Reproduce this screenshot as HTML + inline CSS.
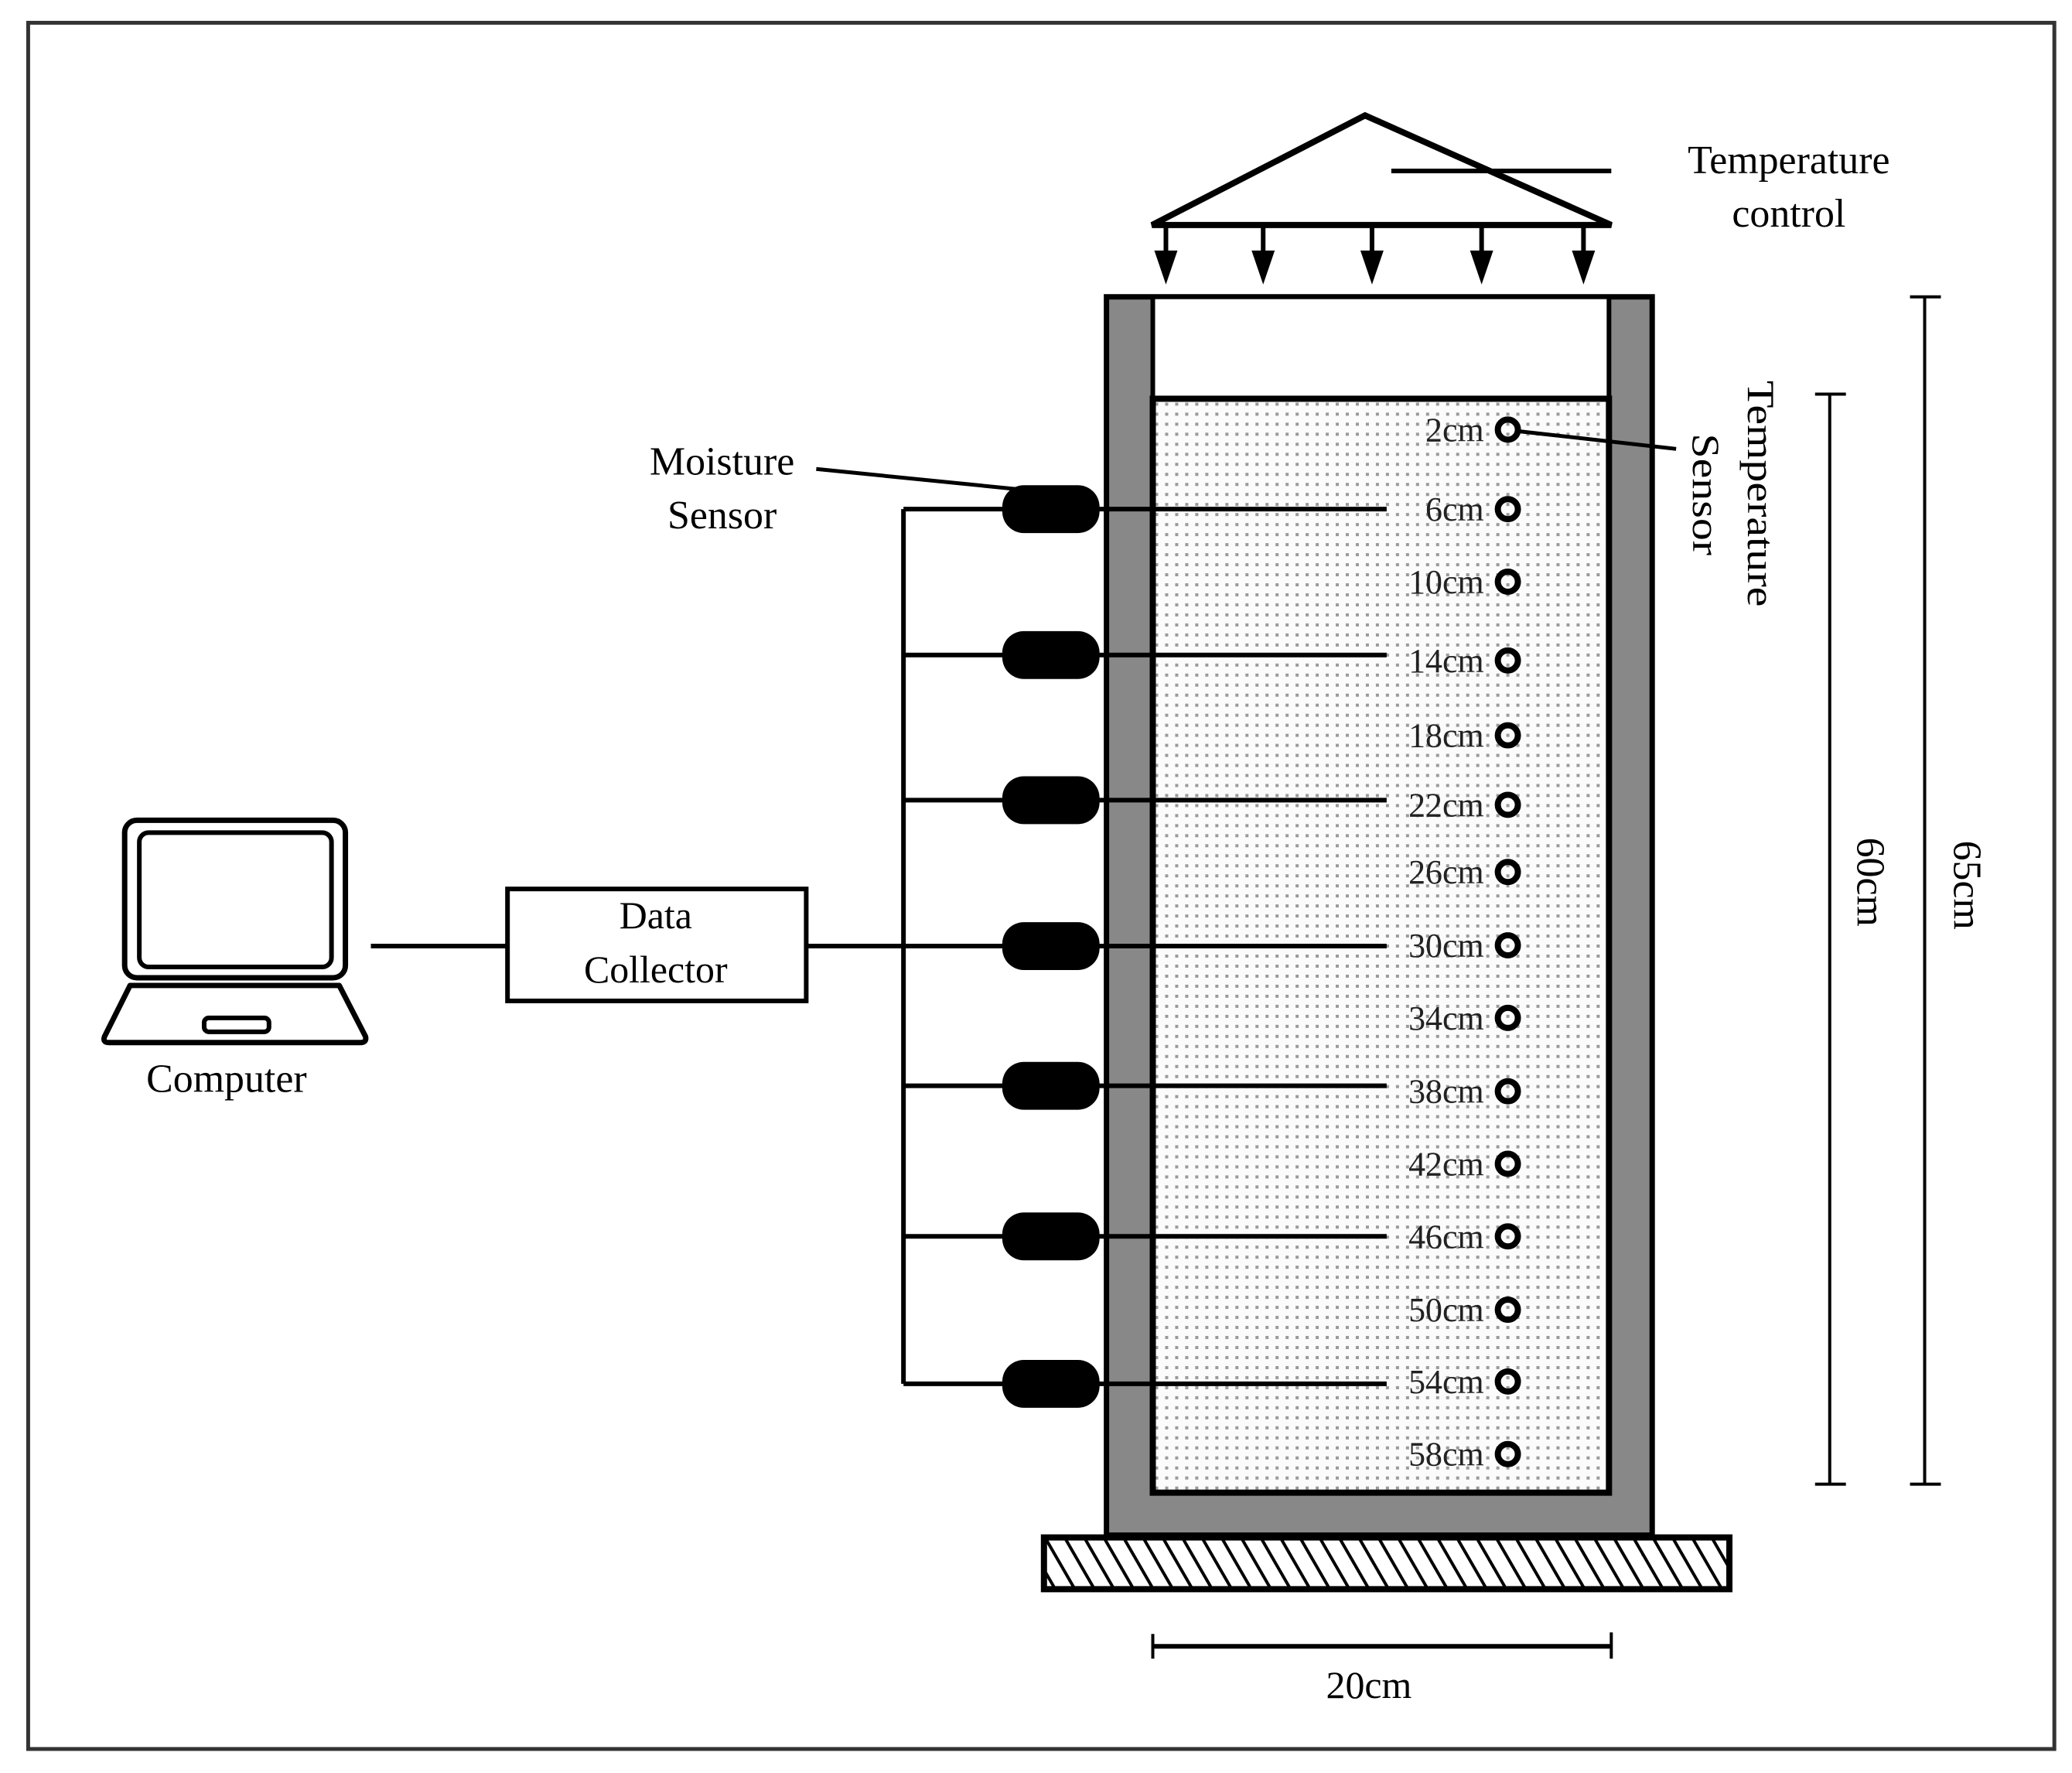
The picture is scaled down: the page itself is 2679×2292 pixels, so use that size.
<!DOCTYPE html>
<html><head><meta charset="utf-8"><style>html,body{margin:0;padding:0;background:#fff}svg{display:block}</style></head>
<body>
<svg width="2679" height="2292" viewBox="0 0 2679 2292" xmlns="http://www.w3.org/2000/svg" font-family="'Liberation Serif', serif" fill="#000">
<defs>
<pattern id="dots" width="13" height="13" patternUnits="userSpaceOnUse">
<rect width="13" height="13" fill="#fbfbfb"/>
<rect x="5" y="5" width="4" height="4" fill="#9a9a9a"/>
</pattern>
<pattern id="hatch" width="22" height="22" patternUnits="userSpaceOnUse" patternTransform="rotate(-30)">
<rect width="22" height="22" fill="#fff"/>
<rect x="0" y="0" width="4" height="22" fill="#000"/>
</pattern>
</defs>
<rect x="0" y="0" width="2679" height="2292" fill="#fff"/>
<g transform="translate(-3.5,-3.5) scale(0.998)">
<!-- frame -->
<rect x="40" y="33" width="2625" height="2236" fill="none" stroke="#333" stroke-width="5"/>

<!-- temperature control -->
<polygon points="1772,153 1496,295 2091,295" fill="none" stroke="#000" stroke-width="8" stroke-linejoin="miter"/>
<line x1="1806" y1="225" x2="2091" y2="225" stroke="#000" stroke-width="6"/>
<g stroke="#000" stroke-width="6">
<line x1="1514" y1="295" x2="1514" y2="335"/><line x1="1640" y1="295" x2="1640" y2="335"/><line x1="1781" y1="295" x2="1781" y2="335"/><line x1="1923" y1="295" x2="1923" y2="335"/><line x1="2055" y1="295" x2="2055" y2="335"/>
</g>
<g>
<polygon points="1499,328 1529,328 1514,372"/><polygon points="1625,328 1655,328 1640,372"/><polygon points="1766,328 1796,328 1781,372"/><polygon points="1908,328 1938,328 1923,372"/><polygon points="2040,328 2070,328 2055,372"/>
</g>
<text x="2321" y="228" font-size="52" text-anchor="middle">Temperature</text>
<text x="2321" y="297" font-size="52" text-anchor="middle">control</text>

<!-- column -->
<rect x="1437" y="388" width="707" height="1604" fill="#888" stroke="#000" stroke-width="7"/>
<rect x="1497" y="388" width="591" height="132" fill="#fff" stroke="#000" stroke-width="6"/>
<rect x="1497" y="520" width="591" height="1417" fill="url(#dots)" stroke="#000" stroke-width="8"/>
<!-- base -->
<rect x="1356" y="1995" width="888" height="67" fill="url(#hatch)" stroke="#000" stroke-width="8"/>

<!-- moisture rods + pills -->
<g stroke="#000" stroke-width="6">
<line x1="1174" y1="663" x2="1174" y2="1796"/>
<line x1="1174" y1="663" x2="1800" y2="663"/>
<line x1="1174" y1="852" x2="1800" y2="852"/>
<line x1="1174" y1="1040" x2="1800" y2="1040"/>
<line x1="484" y1="1229" x2="1800" y2="1229"/>
<line x1="1174" y1="1410" x2="1800" y2="1410"/>
<line x1="1174" y1="1605" x2="1800" y2="1605"/>
<line x1="1174" y1="1796" x2="1800" y2="1796"/>
</g>
<g fill="#000">
<rect x="1302" y="632" width="126" height="62" rx="28"/>
<rect x="1302" y="821" width="126" height="62" rx="28"/>
<rect x="1302" y="1009" width="126" height="62" rx="28"/>
<rect x="1302" y="1198" width="126" height="62" rx="28"/>
<rect x="1302" y="1379" width="126" height="62" rx="28"/>
<rect x="1302" y="1574" width="126" height="62" rx="28"/>
<rect x="1302" y="1765" width="126" height="62" rx="28"/>
</g>
<line x1="1061" y1="611" x2="1320" y2="637" stroke="#000" stroke-width="5"/>
<text x="939" y="618" font-size="52" text-anchor="middle">Moisture</text>
<text x="939" y="688" font-size="52" text-anchor="middle">Sensor</text>

<!-- temperature sensors -->
<g fill="none" stroke="#000" stroke-width="8">
<circle cx="1957" cy="560" r="13"/><circle cx="1957" cy="663" r="13"/><circle cx="1957" cy="757" r="13"/><circle cx="1957" cy="859" r="13"/><circle cx="1957" cy="956" r="13"/><circle cx="1957" cy="1046" r="13"/><circle cx="1957" cy="1133" r="13"/><circle cx="1957" cy="1228" r="13"/><circle cx="1957" cy="1322" r="13"/><circle cx="1957" cy="1417" r="13"/><circle cx="1957" cy="1511" r="13"/><circle cx="1957" cy="1605" r="13"/><circle cx="1957" cy="1700" r="13"/><circle cx="1957" cy="1793" r="13"/><circle cx="1957" cy="1887" r="13"/>
</g>
<g font-size="44" text-anchor="end" fill="#222">
<text x="1926" y="575">2cm</text><text x="1926" y="678">6cm</text><text x="1926" y="772">10cm</text><text x="1926" y="874">14cm</text><text x="1926" y="971">18cm</text><text x="1926" y="1061">22cm</text><text x="1926" y="1148">26cm</text><text x="1926" y="1243">30cm</text><text x="1926" y="1337">34cm</text><text x="1926" y="1432">38cm</text><text x="1926" y="1526">42cm</text><text x="1926" y="1620">46cm</text><text x="1926" y="1715">50cm</text><text x="1926" y="1808">54cm</text><text x="1926" y="1902">58cm</text>
</g>
<line x1="1970" y1="562" x2="2175" y2="585" stroke="#000" stroke-width="5"/>
<g font-size="50">
<text transform="translate(2268,643) rotate(90)" text-anchor="middle" textLength="293" lengthAdjust="spacingAndGlyphs">Temperature</text>
<text transform="translate(2197,644) rotate(90)" text-anchor="middle" textLength="158" lengthAdjust="spacingAndGlyphs">Sensor</text>
</g>

<!-- dimensions -->
<g stroke="#000" stroke-width="4">
<line x1="2374" y1="514" x2="2374" y2="1926"/><line x1="2355" y1="514" x2="2395" y2="514"/><line x1="2355" y1="1926" x2="2395" y2="1926"/>
<line x1="2497" y1="388" x2="2497" y2="1926"/><line x1="2478" y1="388" x2="2518" y2="388"/><line x1="2478" y1="1926" x2="2518" y2="1926"/>
<line x1="1497" y1="2136" x2="2091" y2="2136" stroke-width="6"/><line x1="1497" y1="2120" x2="1497" y2="2152"/><line x1="2091" y1="2118" x2="2091" y2="2152"/>
</g>
<text transform="translate(2410,1146) rotate(90)" font-size="52" text-anchor="middle">60cm</text>
<text transform="translate(2535,1150) rotate(90)" font-size="52" text-anchor="middle">65cm</text>
<text x="1777" y="2203" font-size="50" text-anchor="middle">20cm</text>

<!-- data collector -->
<rect x="661" y="1155" width="387" height="145" fill="#fff" stroke="#000" stroke-width="6"/>
<text x="853" y="1206" font-size="50" text-anchor="middle">Data</text>
<text x="853" y="1276" font-size="50" text-anchor="middle">Collector</text>

<!-- laptop -->
<rect x="165" y="1066" width="286" height="204" rx="16" fill="#fff" stroke="#000" stroke-width="7"/>
<rect x="184" y="1082" width="249" height="174" rx="12" fill="#fff" stroke="#000" stroke-width="6"/>
<path d="M172,1280 L443,1280 L477,1346 Q479,1354 470,1354 L145,1354 Q136,1354 139,1346 Z" fill="#fff" stroke="#000" stroke-width="7" stroke-linejoin="round"/>
<rect x="268" y="1322" width="84" height="18" rx="6" fill="#fff" stroke="#000" stroke-width="6"/>
<text x="297" y="1418" font-size="52" text-anchor="middle">Computer</text>
</g>
</svg>
</body></html>
